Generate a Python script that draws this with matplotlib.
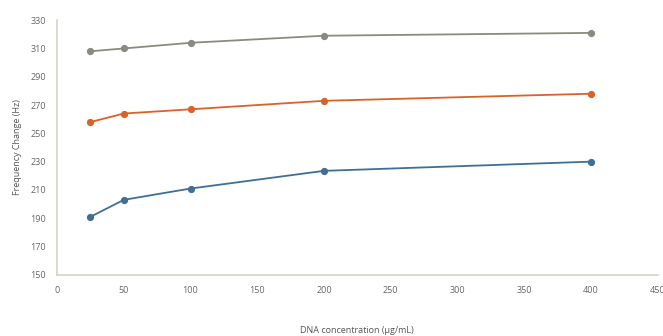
import matplotlib
matplotlib.use('Agg')
import matplotlib.pyplot as plt

conc = [25, 50, 100, 200, 400]
series_blue = [191, 203, 211, 223.5, 230]
series_orange = [258, 264, 267, 273, 278]
series_grey = [308, 310, 314, 319, 321]

plt.rcParams['font.family'] = 'Open Sans'

fig = plt.figure(figsize=(6.63, 3.36), dpi=100)
ax = fig.add_axes([0.086, 0.182, 0.906, 0.758])

ax.plot(conc, series_grey, '-o', color='#8c8a80', lw=1.3, ms=4.2)
ax.plot(conc, series_orange, '-o', color='#d9622b', lw=1.3, ms=4.2)
ax.plot(conc, series_blue, '-o', color='#3f6f94', lw=1.3, ms=4.2)

ax.set_xlim(0, 450)
ax.set_ylim(150, 330)
ax.set_xticks(range(0, 451, 50))
ax.set_yticks(range(150, 331, 20))

for s in ['top', 'right']:
    ax.spines[s].set_visible(False)
for s in ['left', 'bottom']:
    ax.spines[s].set_color('#d6d2c8')
    ax.spines[s].set_linewidth(1.2)

ax.tick_params(length=0, labelsize=6.5, colors='#666666', pad=8)
ax.set_xlabel('DNA concentration (µg/mL)', fontsize=6.5, color='#555555', labelpad=22)
ax.set_ylabel('Frequency Change (Hz)', fontsize=6.5, color='#555555', labelpad=6)

fig.savefig('out.png', dpi=100)
